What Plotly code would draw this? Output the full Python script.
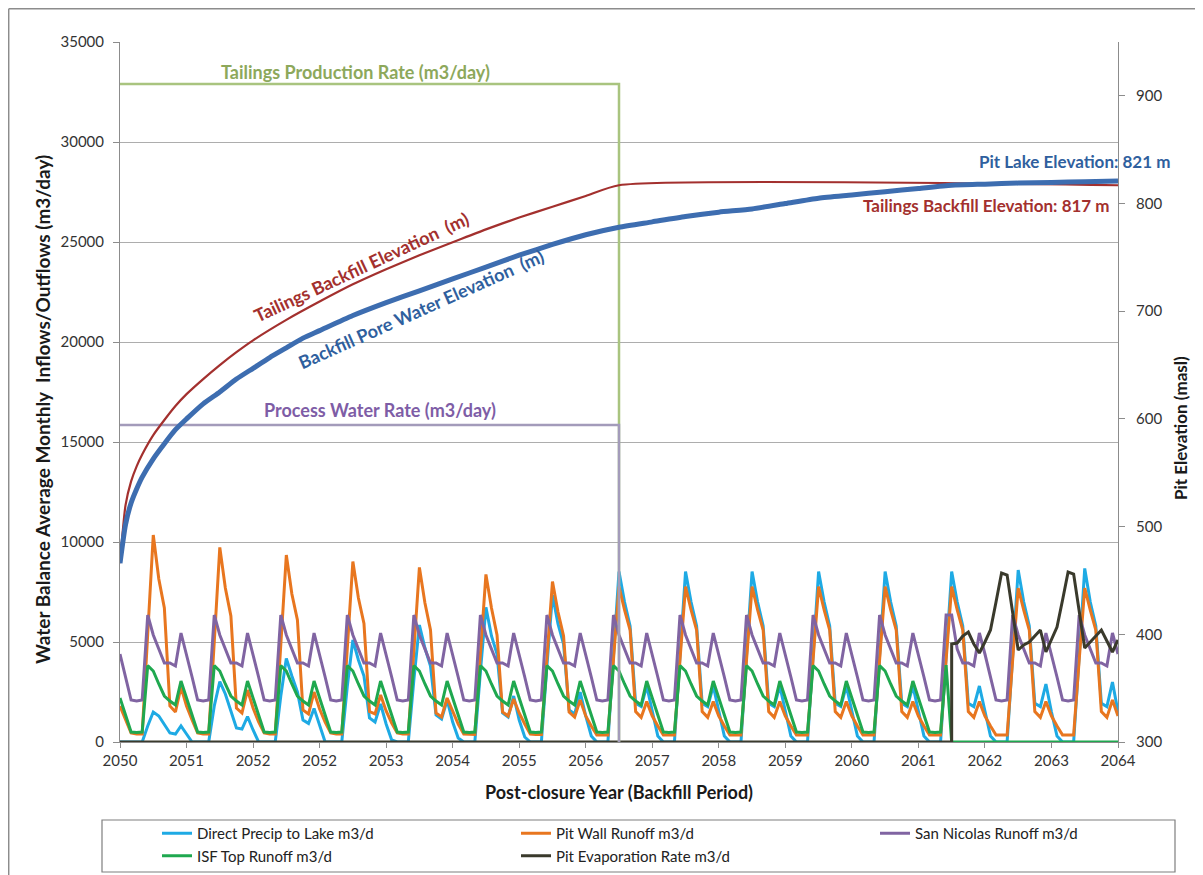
import plotly.graph_objects as go

# ---------------- data ----------------
MONTHS = list(range(181))                      # month index from Jan 2050
YEAR_TICKS = list(range(0, 181, 12))
YEAR_LABELS = ["2050", "2051", "2052", "2052", "2053", "2054", "2055", "2056",
               "2057", "2058", "2059", "2060", "2061", "2062", "2063", "2064"]

direct_precip = [
    0, 0, 0, 0, 0, 800, 1500, 1300, 850, 450, 400, 800,
    400, 0, 0, 0, 0, 1800, 3020, 2400, 1600, 700, 650, 1270,
    600, 0, 0, 0, 0, 2300, 4180, 3300, 2500, 1100, 930, 1680,
    800, 0, 0, 0, 0, 2800, 5100, 4100, 3300, 1200, 1000, 1900,
    900, 100, 0, 0, 0, 3100, 5850, 4700, 3800, 1350, 1150, 2100,
    1000, 200, 0, 0, 0, 3500, 6730, 5300, 4400, 1450, 1250, 2300,
    1100, 250, 0, 0, 0, 3800, 7350, 5900, 4900, 1600, 1400, 2500,
    1300, 300, 0, 0, 0, 4300, 8520, 7000, 5800, 1930, 1770, 2800,
    1500, 300, 0, 0, 0, 4300, 8520, 7000, 5800, 1930, 1770, 2800,
    1500, 300, 0, 0, 0, 4300, 8520, 7000, 5800, 1930, 1770, 2800,
    1500, 300, 0, 0, 0, 4300, 8520, 7000, 5800, 1930, 1770, 2800,
    1500, 300, 0, 0, 0, 4300, 8520, 7000, 5800, 1930, 1770, 2800,
    1500, 300, 0, 0, 0, 4300, 8520, 7000, 5800, 1930, 1770, 2800,
    1500, 300, 0, 0, 0, 4300, 8600, 7000, 5800, 1930, 1770, 2900,
    1500, 300, 0, 0, 0, 4300, 8680, 7000, 5800, 1930, 1770, 3000,
    1500,
]

pit_wall_runoff = [
    1800, 1100, 450, 400, 400, 5400, 10350, 8150, 6700, 1800, 1500, 2750,
    1800, 1100, 450, 400, 400, 5000, 9730, 7700, 6300, 1700, 1450, 2600,
    1700, 1000, 450, 400, 400, 4850, 9350, 7400, 6100, 1600, 1400, 2500,
    1650, 1000, 450, 400, 400, 4700, 9020, 7200, 5930, 1520, 1400, 2350,
    1550, 950, 450, 400, 400, 4550, 8730, 6950, 5600, 1450, 1250, 2200,
    1500, 900, 400, 380, 380, 4400, 8380, 6700, 5350, 1500, 1300, 2150,
    1450, 900, 400, 380, 380, 4200, 8020, 6500, 5300, 1500, 1250, 2100,
    1300, 800, 350, 350, 350, 4100, 7770, 6600, 5600, 1520, 1230, 2020,
    1300, 800, 350, 350, 350, 4100, 7770, 6600, 5600, 1520, 1230, 2020,
    1300, 800, 350, 350, 350, 4100, 7770, 6600, 5600, 1520, 1230, 2020,
    1300, 800, 350, 350, 350, 4100, 7770, 6600, 5600, 1520, 1230, 2020,
    1300, 800, 350, 350, 350, 4100, 7770, 6600, 5600, 1520, 1230, 2020,
    1300, 800, 350, 350, 350, 4100, 7770, 6600, 5600, 1520, 1230, 2020,
    1300, 800, 350, 350, 350, 4100, 7700, 6600, 5600, 1520, 1230, 2020,
    1300, 800, 350, 350, 350, 4100, 7700, 6600, 5600, 1520, 1230, 2100,
    1300,
]

san_nicolas_runoff = [
    4400, 3250, 2100, 2050, 2100, 6350, 5350, 4650, 3950, 3950, 3800, 5450,
    4400, 3250, 2100, 2050, 2100, 6350, 5350, 4650, 3950, 3950, 3800, 5450,
    4400, 3250, 2100, 2050, 2100, 6350, 5350, 4650, 3950, 3950, 3800, 5450,
    4400, 3250, 2100, 2050, 2100, 6350, 5350, 4650, 3950, 3950, 3800, 5450,
    4400, 3250, 2100, 2050, 2100, 6350, 5350, 4650, 3950, 3950, 3800, 5450,
    4400, 3250, 2100, 2050, 2100, 6350, 5350, 4650, 3950, 3950, 3800, 5450,
    4400, 3250, 2100, 2050, 2100, 6350, 5350, 4650, 3950, 3950, 3800, 5450,
    4400, 3250, 2100, 2050, 2100, 6350, 5350, 4650, 3950, 3950, 3800, 5450,
    4400, 3250, 2100, 2050, 2100, 6350, 5350, 4650, 3950, 3950, 3800, 5450,
    4400, 3250, 2100, 2050, 2100, 6350, 5350, 4650, 3950, 3950, 3800, 5450,
    4400, 3250, 2100, 2050, 2100, 6350, 5350, 4650, 3950, 3950, 3800, 5450,
    4400, 3250, 2100, 2050, 2100, 6350, 5350, 4650, 3950, 3950, 3800, 5450,
    4400, 3250, 2100, 2050, 2100, 6350, 6350, 4650, 3950, 3950, 3800, 5450,
    4400, 3250, 2100, 2050, 2100, 6350, 5350, 4650, 3950, 3950, 3800, 5450,
    4400, 3250, 2100, 2050, 2100, 6350, 5350, 4650, 3950, 3950, 3800, 5450,
    4400,
]

isf_top_runoff = [
    2200, 1350, 500, 480, 500, 3820, 3550, 2900, 2300, 2050, 1850, 3050,
    2200, 1350, 500, 480, 500, 3820, 3550, 2900, 2300, 2050, 1850, 3050,
    2200, 1350, 500, 480, 500, 3820, 3550, 2900, 2300, 2050, 1850, 3050,
    2200, 1350, 500, 480, 500, 3820, 3550, 2900, 2300, 2050, 1850, 3050,
    2200, 1350, 500, 480, 500, 3820, 3550, 2900, 2300, 2050, 1850, 3050,
    2200, 1350, 500, 480, 500, 3820, 3550, 2900, 2300, 2050, 1850, 3050,
    2200, 1350, 500, 480, 500, 3820, 3550, 2900, 2300, 2050, 1850, 3050,
    2200, 1350, 500, 480, 500, 3820, 3550, 2900, 2300, 2050, 1850, 3050,
    2200, 1350, 500, 480, 500, 3820, 3550, 2900, 2300, 2050, 1850, 3050,
    2200, 1350, 500, 480, 500, 3820, 3550, 2900, 2300, 2050, 1850, 3050,
    2200, 1350, 500, 480, 500, 3820, 3550, 2900, 2300, 2050, 1850, 3050,
    2200, 1350, 500, 480, 500, 3820, 3550, 2900, 2300, 2050, 1850, 3050,
    2200, 1350, 500, 480, 500, 3850, 0, 0, 0, 0, 0, 0,
    0, 0, 0, 0, 0, 0, 0, 0, 0, 0, 0, 0,
    0, 0, 0, 0, 0, 0, 0, 0, 0, 0, 0, 0,
    0,
]

evap_months = [0, 150] + list(range(150, 181))
pit_evaporation = [
    0, 0,
    4900, 4950, 5300, 5500, 4900, 4450,
    5000, 5600, 7000, 8450, 8350, 6400, 4600, 4850, 5000, 5300, 5600, 4500,
    5100, 5750, 7100, 8500, 8400, 6500, 4700, 5000, 5300, 5600, 5050, 4500,
    5100,
]

rate_months = [0, 90, 90]
tailings_production_rate = [32900, 32900, 0]
process_water_rate = [15850, 15850, 0]

backfill_months = [0, 1, 2, 3, 4, 6, 8, 10, 12, 15, 18, 21, 24, 30, 36, 42,
                   48, 54, 60, 66, 72, 78, 84, 90, 180]
backfill_elevation = [466, 520, 542, 556, 567, 585, 599, 612, 623, 637, 650, 662,
                      673, 692, 709, 725, 739, 752, 764, 776, 787, 797, 807, 817, 817]

porewater_months = [0, 1, 2, 3, 4, 6, 8, 10, 12, 15, 18, 21, 24, 27, 30, 33, 36,
                    42, 48, 54, 60, 66, 72, 78, 84, 90, 96, 102, 108, 114, 120,
                    126, 132, 138, 144, 150, 156, 162, 168, 174, 180]
porewater_elevation = [466, 502, 522, 535, 546, 563, 577, 590, 600, 614, 625, 637,
                       647, 657, 666, 675, 682, 696, 708, 719, 730, 741, 752, 762,
                       771, 778, 783, 788, 792, 795, 800, 805, 808, 811, 814, 817,
                       818, 819, 819.5, 820.3, 821]

# ---------------- figure ----------------
FONT = "Lato"
OFF = 8                       # page body margin of the html output
W, H = 1203 - OFF, 875 - OFF
L, T = 120 - OFF, 42 - OFF
R = W - (1118 - OFF)
B = H - (742 - OFF)
PW, PH = W - L - R, H - T - B


def px_x(page_x):
    return (page_x - OFF - L) / PW


def px_y(page_y):
    return (H - B - (page_y - OFF)) / PH


fig = go.Figure()

series = [
    ("Direct Precip to Lake m3/d", direct_precip, "#1EAAE4"),
    ("Pit Wall Runoff m3/d", pit_wall_runoff, "#E8761F"),
    ("San Nicolas Runoff m3/d", san_nicolas_runoff, "#8064A2"),
    ("ISF Top Runoff m3/d", isf_top_runoff, "#1FA84F"),
]
for name, vals, col in series:
    fig.add_trace(go.Scatter(x=MONTHS, y=vals, name=name, mode="lines",
                             line=dict(color=col, width=3)))
fig.add_trace(go.Scatter(x=evap_months, y=pit_evaporation, name="Pit Evaporation Rate m3/d",
                         mode="lines", line=dict(color="#3A3A2C", width=3)))

fig.add_trace(go.Scatter(x=rate_months, y=tailings_production_rate, mode="lines",
                         showlegend=False, line=dict(color="#A9C47F", width=2.5)))
fig.add_trace(go.Scatter(x=rate_months, y=process_water_rate, mode="lines",
                         showlegend=False, line=dict(color="#A39BBA", width=2.5)))

fig.add_trace(go.Scatter(x=backfill_months, y=backfill_elevation, yaxis="y2", mode="lines",
                         showlegend=False,
                         line=dict(color="#A3302E", width=2.2, shape="spline", smoothing=0.6)))
fig.add_trace(go.Scatter(x=porewater_months, y=porewater_elevation, yaxis="y2", mode="lines",
                         showlegend=False,
                         line=dict(color="#3D6DB0", width=5, shape="spline", smoothing=0.6)))

tickfont = dict(family=FONT, size=15, color="#333333")
fig.update_layout(
    width=W, height=H,
    margin=dict(l=L, r=R, t=T, b=B, autoexpand=False),
    paper_bgcolor="white", plot_bgcolor="white",
    font=dict(family=FONT, color="#222222"),
    xaxis=dict(range=[0, 180], tickvals=YEAR_TICKS, ticktext=YEAR_LABELS,
               showgrid=False, zeroline=False, showline=True, linecolor="#8C8C8C",
               linewidth=1, ticks="outside", ticklen=5, tickcolor="#8C8C8C",
               tickfont=tickfont),
    yaxis=dict(range=[0, 35000], dtick=5000, tickformat="d", showgrid=True,
               gridcolor="#ADADAD", gridwidth=1, zeroline=False, showline=True,
               linecolor="#8C8C8C", ticks="outside", ticklen=6, tickcolor="#8C8C8C",
               tickfont=tickfont, ticklabelstandoff=6),
    yaxis2=dict(range=[300, 950], overlaying="y", side="right",
                tickvals=[300, 400, 500, 600, 700, 800, 900], showgrid=False,
                zeroline=False, showline=True, linecolor="#8C8C8C", ticks="outside",
                ticklen=6, tickcolor="#8C8C8C", tickfont=tickfont, ticklabelstandoff=8),
    legend=dict(orientation="h", x=-0.001, xanchor="left", y=px_y(817), yanchor="top",
                entrywidth=276, indentation=38,
                font=dict(family=FONT, size=15, color="#222222"),
                bgcolor="rgba(0,0,0,0)", borderwidth=0),
    showlegend=True,
)

shapes = [
    # legend frame
    dict(type="rect", xref="paper", yref="paper", x0=px_x(102), x1=px_x(1175),
         y0=px_y(872), y1=px_y(820), line=dict(color="#7F7F7F", width=1.2)),
    # chart-area frame (left + top edges)
    dict(type="line", xref="paper", yref="paper", x0=px_x(8.7), x1=px_x(8.7),
         y0=px_y(8.7), y1=px_y(875), line=dict(color="#8C8C8C", width=1.5)),
    dict(type="line", xref="paper", yref="paper", x0=px_x(8.7), x1=px_x(1203),
         y0=px_y(8.7), y1=px_y(8.7), line=dict(color="#8C8C8C", width=1.5)),
]
fig.update_layout(shapes=shapes)

ann = [
    dict(text="<b>Post-closure Year (Backfill Period)</b>", x=px_x(619), y=px_y(792),
         font=dict(size=18, color="#1A1A1A")),
    dict(text="<b>Water Balance Average Monthly  Inflows/Outflows (m3/day)</b>",
         x=px_x(42), y=px_y(410), textangle=-90, font=dict(size=19, color="#1A1A1A")),
    dict(text="<b>Pit Elevation (masl)</b>", x=px_x(1181), y=px_y(428), textangle=-90,
         font=dict(size=17, color="#1A1A1A")),
    dict(text="<b>Tailings Production Rate (m3/day)</b>", x=px_x(355), y=px_y(72),
         font=dict(size=18, color="#8DA85B")),
    dict(text="<b>Process Water Rate (m3/day)</b>", x=px_x(380), y=px_y(410),
         font=dict(size=18, color="#7E5DA6")),
    dict(text="<b>Tailings Backfill Elevation  (m)</b>", x=px_x(361), y=px_y(267),
         textangle=-25, font=dict(size=18, color="#A3302E")),
    dict(text="<b>Backfill Pore Water Elevation  (m)</b>", x=px_x(421), y=px_y(309),
         textangle=-24, font=dict(size=18, color="#2F5F9E")),
    dict(text="<b>Pit Lake Elevation: 821 m</b>", x=px_x(1172), y=px_y(162),
         xanchor="right", font=dict(size=17, color="#2F5F9E")),
    dict(text="<b>Tailings Backfill Elevation: 817 m</b>", x=px_x(1112), y=px_y(205),
         xanchor="right", font=dict(size=17, color="#A3302E")),
]
for a in ann:
    a.setdefault("xref", "paper")
    a.setdefault("yref", "paper")
    a.setdefault("showarrow", False)
    a.setdefault("xanchor", "center")
    a.setdefault("yanchor", "middle")
    a["font"].setdefault("family", FONT)
fig.update_layout(annotations=ann)

fig.write_html("out.html")
